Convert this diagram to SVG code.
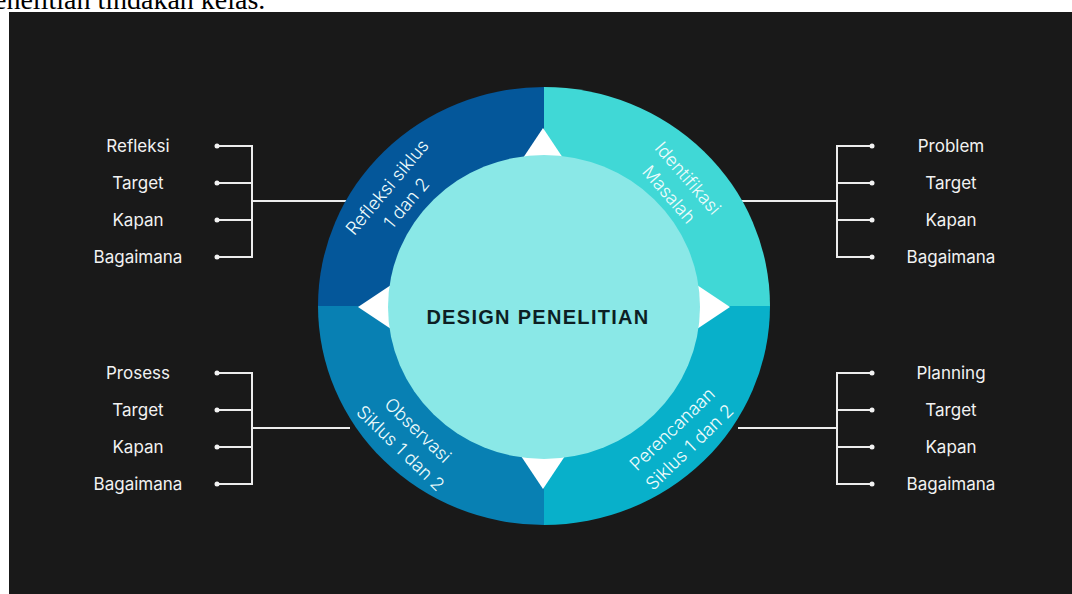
<svg xmlns="http://www.w3.org/2000/svg" width="1072" height="594" viewBox="0 0 1072 594">
<style>
.cap{font-family:"Liberation Serif","Times New Roman",serif;font-size:28px;fill:#000}
.lbl{font-family:Inter,"Liberation Sans",Arial,sans-serif;font-size:17px;fill:#f2f2f2;text-anchor:middle;dominant-baseline:central}
.ring{font-family:Inter,"Liberation Sans",Arial,sans-serif;font-size:18px;font-weight:300;fill:#eefcfc;text-anchor:middle;dominant-baseline:central}
.title{font-family:"Liberation Sans",Arial,sans-serif;font-size:20px;font-weight:700;letter-spacing:1.3px;fill:#0d1f24;text-anchor:middle}
.ln{stroke:#ececec;stroke-width:2;fill:none}
.dot{fill:#f2f2f2}
.tri{fill:#ffffff}
</style>
<rect x="0" y="0" width="1072" height="594" fill="#ffffff"/>
<text class="cap" x="-20" y="9">penelitian tindakan kelas.</text>
<rect x="9" y="12" width="1063" height="582" fill="#191919"/>

<g id="connectors">
  <path class="ln" d="M217,146H252M217,183H252M217,220H252M217,257H252M252,145V258M252,201H350"/>
  <path class="ln" d="M872,146H837M872,183H837M872,220H837M872,257H837M837,145V258M837,201H738"/>
  <path class="ln" d="M217,373H252M217,410H252M217,447H252M217,484H252M252,372V485M252,428H350"/>
  <path class="ln" d="M872,373H837M872,410H837M872,447H837M872,484H837M837,372V485M837,428H738"/>
  <g class="dot">
    <circle cx="217" cy="146" r="2.5"/><circle cx="217" cy="183" r="2.5"/><circle cx="217" cy="220" r="2.5"/><circle cx="217" cy="257" r="2.5"/>
    <circle cx="872" cy="146" r="2.5"/><circle cx="872" cy="183" r="2.5"/><circle cx="872" cy="220" r="2.5"/><circle cx="872" cy="257" r="2.5"/>
    <circle cx="217" cy="373" r="2.5"/><circle cx="217" cy="410" r="2.5"/><circle cx="217" cy="447" r="2.5"/><circle cx="217" cy="484" r="2.5"/>
    <circle cx="872" cy="373" r="2.5"/><circle cx="872" cy="410" r="2.5"/><circle cx="872" cy="447" r="2.5"/><circle cx="872" cy="484" r="2.5"/>
  </g>
</g>

<g id="refleksi">
  <path d="M544,306 L318,306 A226,219 0 0 1 544,87 Z" fill="#04579a"/>
  <g transform="translate(387,187) rotate(-50)">
    <text class="ring" x="0" y="0">Refleksi siklus</text>
    <text class="ring" x="0" y="25">1 dan 2</text>
  </g>
</g>
<g id="identifikasi">
  <path d="M544,306 L544,87 A226,219 0 0 1 770,306 Z" fill="#40d8d6"/>
  <g transform="translate(688,178) rotate(49)">
    <text class="ring" x="0" y="0">Identifikasi</text>
    <text class="ring" x="0" y="25">Masalah</text>
  </g>
</g>
<g id="perencanaan">
  <path d="M544,306 L770,306 A226,219 0 0 1 544,525 Z" fill="#08b0ca"/>
  <g transform="translate(672,429) rotate(-44)">
    <text class="ring" x="0" y="0">Perencanaan</text>
    <text class="ring" x="0" y="25">Siklus 1 dan 2</text>
  </g>
</g>
<g id="observasi">
  <path d="M544,306 L544,525 A226,219 0 0 1 318,306 Z" fill="#0880b3"/>
  <g transform="translate(418,430) rotate(44)">
    <text class="ring" x="0" y="0">Observasi</text>
    <text class="ring" x="0" y="25">Siklus 1 dan 2</text>
  </g>
</g>

<g id="arrows">
  <polygon class="tri" points="543,128 519,164 567,164"/>
  <polygon class="tri" points="358,307 394,283 394,331"/>
  <polygon class="tri" points="730,307 694,283 694,331"/>
  <polygon class="tri" points="543,489 519,453 567,453"/>
</g>

<g id="center">
  <ellipse cx="544" cy="307" rx="156" ry="152" fill="#8ae8e7"/>
  <text class="title" x="538" y="324">DESIGN PENELITIAN</text>
</g>

<g id="labels-top-left">
  <text class="lbl" x="138" y="146">Refleksi</text>
  <text class="lbl" x="138" y="183">Target</text>
  <text class="lbl" x="138" y="220">Kapan</text>
  <text class="lbl" x="138" y="257">Bagaimana</text>
</g>
<g id="labels-top-right">
  <text class="lbl" x="951" y="146">Problem</text>
  <text class="lbl" x="951" y="183">Target</text>
  <text class="lbl" x="951" y="220">Kapan</text>
  <text class="lbl" x="951" y="257">Bagaimana</text>
</g>
<g id="labels-bottom-left">
  <text class="lbl" x="138" y="373">Prosess</text>
  <text class="lbl" x="138" y="410">Target</text>
  <text class="lbl" x="138" y="447">Kapan</text>
  <text class="lbl" x="138" y="484">Bagaimana</text>
</g>
<g id="labels-bottom-right">
  <text class="lbl" x="951" y="373">Planning</text>
  <text class="lbl" x="951" y="410">Target</text>
  <text class="lbl" x="951" y="447">Kapan</text>
  <text class="lbl" x="951" y="484">Bagaimana</text>
</g>
</svg>
